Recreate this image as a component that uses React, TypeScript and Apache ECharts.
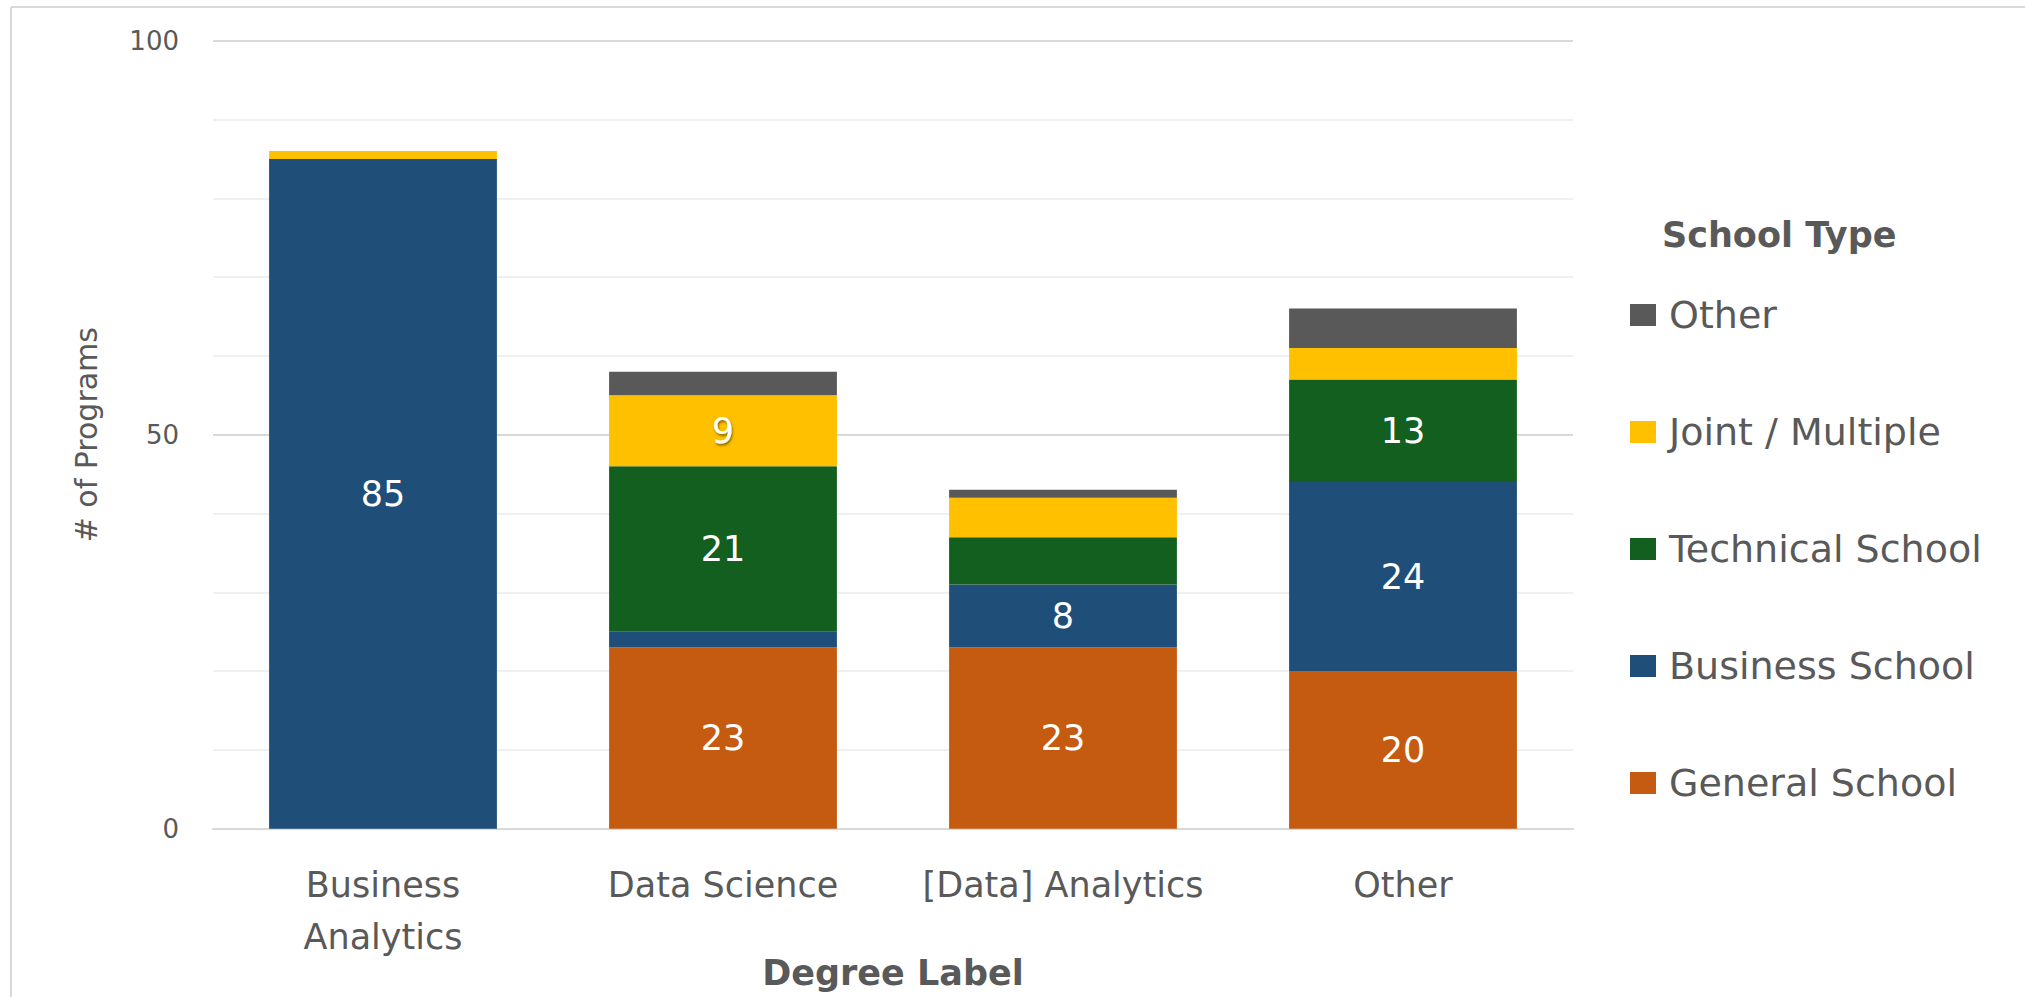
import React, { useEffect, useRef } from "react";
import * as echarts from "echarts";

const categories = ["Business\nAnalytics", "Data Science", "[Data] Analytics", "Other"];
const generalSchool = [0, 23, 23, 20];
const businessSchool = [85, 2, 8, 24];
const technicalSchool = [0, 21, 6, 13];
const jointMultiple = [1, 9, 5, 4];
const otherSchool = [0, 3, 1, 5];
const yTicks = [0, 50, 100];

const FONT = "DejaVu Sans";
const GRAY = "#595959";

export default function App() {
  const ref = useRef<HTMLDivElement>(null);
  useEffect(() => {
    document.body.style.margin = "0";
    const chart = echarts.init(ref.current!, null, { renderer: "svg" });
    const labelFmt = (p: any) => (p.value >= 8 ? String(p.value) : "");
    const mk = (name: string, data: number[], color: string, shadow = false) => ({
      name,
      type: "bar",
      stack: "total",
      data,
      barWidth: "67%",
      itemStyle: { color },
      label: {
        show: true,
        position: "inside",
        formatter: labelFmt,
        color: "#ffffff",
        fontFamily: FONT,
        fontSize: 35,
        ...(shadow
          ? { textShadowColor: "rgba(0,0,0,0.45)", textShadowBlur: 2, textShadowOffsetX: 1, textShadowOffsetY: 2 }
          : {}),
      },
    });
    chart.setOption({
      animation: false,
      backgroundColor: "#ffffff",
      textStyle: { fontFamily: FONT },
      title: {
        text: "School Type",
        left: 1662,
        top: 217,
        padding: 0,
        textStyle: { fontFamily: FONT, fontSize: 35, fontWeight: "bold", color: GRAY, lineHeight: 35 },
      },
      legend: {
        orient: "vertical",
        left: 1630,
        top: 296,
        padding: 0,
        itemWidth: 26,
        itemHeight: 22,
        itemGap: 79,
        icon: "rect",
        data: ["Other", "Joint / Multiple", "Technical School", "Business School", "General School"],
        textStyle: { fontFamily: FONT, fontSize: 38, lineHeight: 38, color: GRAY, padding: [0, 0, 0, 8] },
      },
      grid: {
        left: 213,
        right: 452,
        top: 40.7,
        bottom: 168.3,
        containLabel: false,
        outerBoundsMode: "none",
      },
      xAxis: {
        type: "category",
        data: categories,
        name: "Degree Label",
        nameLocation: "middle",
        nameGap: 127,
        nameMoveOverlap: false,
        nameTextStyle: { fontFamily: FONT, fontSize: 35, fontWeight: "bold", color: GRAY, lineHeight: 35 },
        axisLine: { lineStyle: { color: "#d9d9d9", width: 2 } },
        axisTick: { show: false },
        axisLabel: { fontFamily: FONT, fontSize: 35, lineHeight: 52, color: GRAY, margin: 30, interval: 0 },
      },
      yAxis: {
        type: "value",
        min: 0,
        max: 100,
        interval: 50,
        name: "# of Programs",
        nameLocation: "middle",
        nameGap: 112,
        nameMoveOverlap: false,
        nameTextStyle: { fontFamily: FONT, fontSize: 30, color: GRAY },
        axisLine: { show: false },
        axisTick: { show: false },
        axisLabel: {
          fontFamily: FONT,
          fontSize: 26,
          color: GRAY,
          margin: 34,
          formatter: (v: number) => (yTicks.includes(v) ? String(v) : ""),
        },
        splitLine: { lineStyle: { color: "#d9d9d9", width: 2 } },
        minorTick: { show: false, splitNumber: 5 },
        minorSplitLine: { show: true, lineStyle: { color: "#f0f0f0", width: 2 } },
      },
      graphic: [
        { type: "line", shape: { x1: 11, y1: 7, x2: 2025, y2: 7 }, style: { stroke: "#d9d9d9", lineWidth: 2 } },
        { type: "line", shape: { x1: 11, y1: 7, x2: 11, y2: 997 }, style: { stroke: "#d9d9d9", lineWidth: 2 } },
      ],
      series: [
        mk("General School", generalSchool, "#C55A11"),
        mk("Business School", businessSchool, "#1F4E79"),
        mk("Technical School", technicalSchool, "#125F20"),
        mk("Joint / Multiple", jointMultiple, "#FFC000", true),
        mk("Other", otherSchool, "#595959"),
      ],
    });
    return () => chart.dispose();
  }, []);
  return <div ref={ref} style={{ width: 2025, height: 997 }} />;
}
